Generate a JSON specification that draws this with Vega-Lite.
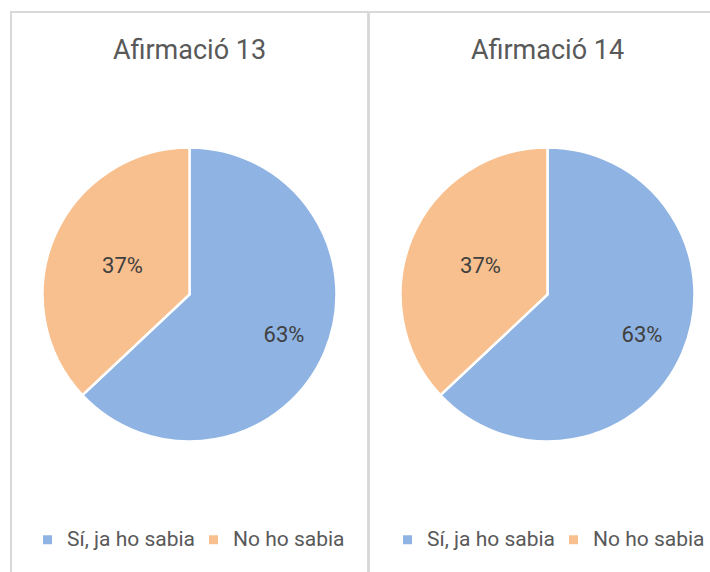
{
  "$schema": "https://vega.github.io/schema/vega-lite/v6.json",
  "padding": {"left": 10, "top": 11, "right": 0, "bottom": 0},
  "spacing": -5,
  "background": "white",
  "config": {
    "font": "Roboto",
    "view": {"stroke": "#d9d9d9", "strokeWidth": 2},
    "title": {"fontSize": 27, "fontWeight": "normal", "color": "#595959", "anchor": "middle", "frame": "group", "offset": -53, "baseline": "alphabetic"}
  },
  "datasets": {
    "a13": [
      {"cat": "Sí, ja ho sabia", "pct": 63, "label": "63%", "ord": 1},
      {"cat": "No ho sabia", "pct": 37, "label": "37%", "ord": 2}
    ],
    "a14": [
      {"cat": "Sí, ja ho sabia", "pct": 63, "label": "63%", "ord": 1},
      {"cat": "No ho sabia", "pct": 37, "label": "37%", "ord": 2}
    ]
  },
  "hconcat": [
    {
      "width": 357,
      "height": 565,
      "view": {"stroke": "#d9d9d9", "strokeWidth": 2},
      "title": {"text": "Afirmació 13"},
      "data": {"name": "a13"},
      "encoding": {
        "theta": {"field": "pct", "type": "quantitative", "stack": true},
        "order": {"field": "ord", "type": "quantitative"}
      },
      "layer": [
        {
          "mark": {"type": "arc", "radius": 147, "stroke": "white", "strokeWidth": 2.5},
          "encoding": {
            "color": {
              "field": "cat", "type": "nominal",
              "scale": {"domain": ["Sí, ja ho sabia", "No ho sabia"], "range": ["#8FB4E3", "#F9C08F"]},
              "sort": ["Sí, ja ho sabia", "No ho sabia"],
              "legend": {"orient": "none", "direction": "horizontal", "legendX": 26, "legendY": 517, "title": null, "symbolType": "square", "symbolSize": 81, "symbolStrokeWidth": 0, "labelFontSize": 21, "labelColor": "#595959", "columnPadding": 8, "labelOffset": 9}
            }
          }
        },
        {
          "mark": {"type": "text", "fontSize": 22, "color": "#404040"},
          "encoding": {
            "detail": {"field": "cat", "type": "nominal"},
            "text": {"field": "label"},
            "radius": {"field": "pct", "type": "quantitative", "scale": {"domain": [37, 63], "range": [73, 103], "zero": false}}
          }
        }
      ]
    },
    {
      "width": 357,
      "height": 565,
      "view": {"stroke": "#d9d9d9", "strokeWidth": 2},
      "title": {"text": "Afirmació 14"},
      "data": {"name": "a14"},
      "encoding": {
        "theta": {"field": "pct", "type": "quantitative", "stack": true},
        "order": {"field": "ord", "type": "quantitative"}
      },
      "layer": [
        {
          "mark": {"type": "arc", "radius": 147, "stroke": "white", "strokeWidth": 2.5},
          "encoding": {
            "color": {
              "field": "cat", "type": "nominal",
              "scale": {"domain": ["Sí, ja ho sabia", "No ho sabia"], "range": ["#8FB4E3", "#F9C08F"]},
              "sort": ["Sí, ja ho sabia", "No ho sabia"],
              "legend": {"orient": "none", "direction": "horizontal", "legendX": 28, "legendY": 517, "title": null, "symbolType": "square", "symbolSize": 81, "symbolStrokeWidth": 0, "labelFontSize": 21, "labelColor": "#595959", "columnPadding": 8, "labelOffset": 9}
            }
          }
        },
        {
          "mark": {"type": "text", "fontSize": 22, "color": "#404040"},
          "encoding": {
            "detail": {"field": "cat", "type": "nominal"},
            "text": {"field": "label"},
            "radius": {"field": "pct", "type": "quantitative", "scale": {"domain": [37, 63], "range": [73, 103], "zero": false}}
          }
        }
      ]
    }
  ],
  "resolve": {"legend": {"color": "independent"}, "scale": {"color": "independent", "theta": "independent", "radius": "independent"}}
}
